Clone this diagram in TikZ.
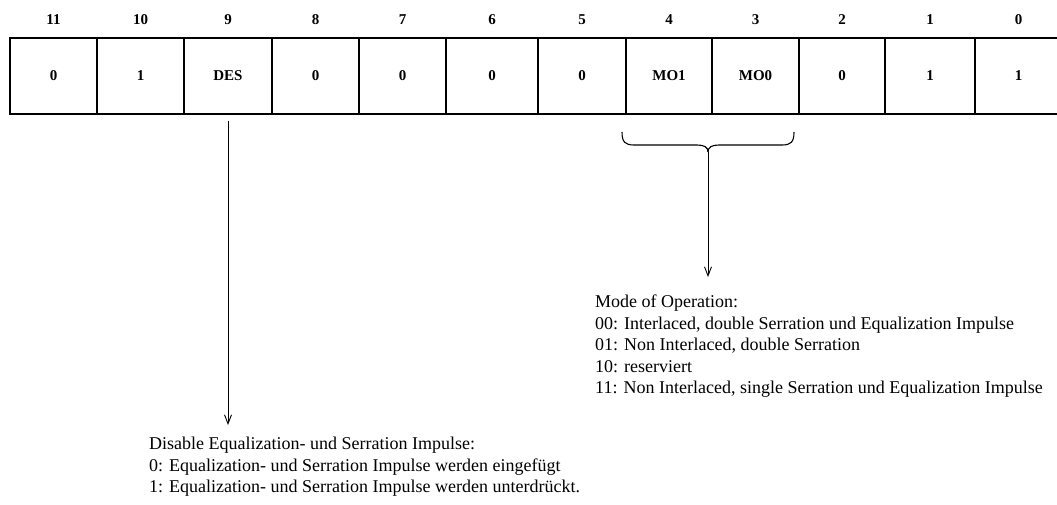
\documentclass[tikz,border=0pt]{standalone}
\usepackage{fontspec}
\setmainfont{Liberation Serif}
\usetikzlibrary{arrows.meta,calc}
\begin{document}
\begin{tikzpicture}[x=1pt,y=-1pt,
  cell/.style={draw,line width=1.1pt,minimum height=76pt,inner sep=0pt,
    font=\fontsize{15}{18}\selectfont\bfseries},
  bitno/.style={inner sep=0pt,font=\fontsize{15}{18}\selectfont\bfseries},
  desc/.style={align=left,inner sep=0pt,font=\fontsize{18}{21.5}\selectfont},
  pointer/.style={line width=0.9pt,-{Straight Barb[length=9pt,width=7pt]}},
  bracepath/.style={line width=1.1pt}]
\useasboundingbox (0,0) rectangle (1057,504);

% register cells: left edge / right edge / bit number / content
\foreach \l/\r/\b/\v in {10/97/11/0, 97/184/10/1, 184/272/9/DES, 272/359/8/0,
    359/446/7/0, 446/538/6/0, 538/626/5/0, 626/712/4/MO1, 712/799/3/MO0,
    799/885/2/0, 885/975/1/1, 975/1062/0/1}{
  \pgfmathsetmacro\w{\r-\l}
  \pgfmathsetmacro\cx{(\l+\r)/2}
  \node[cell,minimum width=\w pt] (c\b) at (\cx,76) {\v};
  \node[bitno] (n\b) at (\cx,20) {\b};
}

% brace under MO1/MO0
\coordinate (bt) at (708,152);
\draw[bracepath] (622,132) .. controls (622,142) and (625,145) .. (634,145)
  -- (697,145) .. controls (704,145) and (708,147) .. (bt);
\draw[bracepath] (794,132) .. controls (794,142) and (791,145) .. (782,145)
  -- (719,145) .. controls (712,145) and (708,147) .. (bt);

% descriptions
\node[desc,anchor=north west] (mode) at (595,295) {Mode of Operation:\\
00: Interlaced, double Serration und Equalization Impulse\\
01: Non Interlaced, double Serration\\
10: reserviert\\
11: Non Interlaced, single Serration und Equalization Impulse};

\node[desc,anchor=north west] (des) at (149,437) {Disable Equalization- und Serration Impulse:\\
0: Equalization- und Serration Impulse werden eingefügt\\
1: Equalization- und Serration Impulse werden unterdrückt.};

% pointers
\coordinate (modetip) at ($(bt |- mode.north)+(0,-18)$);
\draw[pointer] (bt) -- (modetip);
\coordinate (destop) at ($(c9.south)+(0,6)$);
\coordinate (destip) at ($(destop |- des.north)+(0,-12)$);
\draw[pointer] (destop) -- (destip);
\end{tikzpicture}
\end{document}
